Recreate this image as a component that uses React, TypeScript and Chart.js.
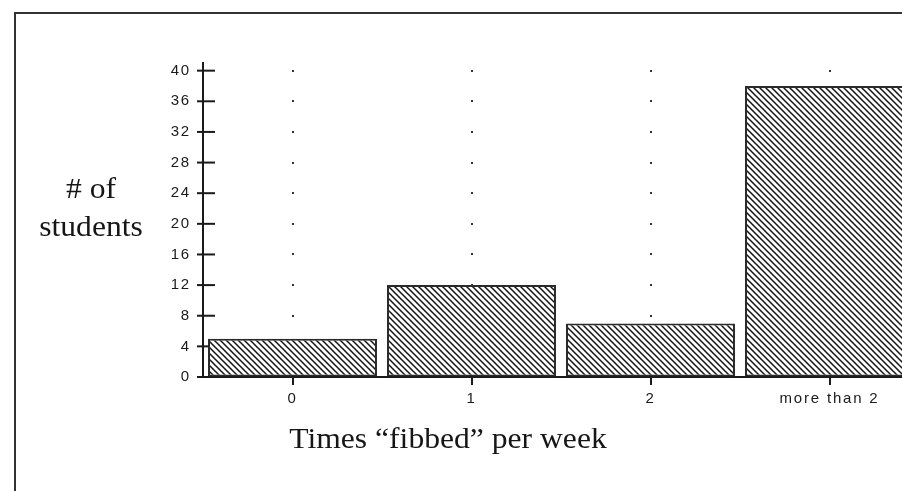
import { useEffect, useRef } from "react";
import { Chart, registerables } from "chart.js";

Chart.register(...registerables);

const categories = ["0", "1", "2", "more than 2"];
const studentCounts = [5, 12, 7, 38];
const yTickValues = [0, 4, 8, 12, 16, 20, 24, 28, 32, 36, 40];
const yMin = 0;
const yMax = 41;
const yTitleLines = ["# of", "students"];
const xTitle = "Times \u201Cfibbed\u201D per week";

const INK = "#1a1a1a";
const LETTER_SPACING = "1.8px";

const decorPlugin = {
  id: "decor",
  beforeUpdate(chart: any) {
    chart.ctx.letterSpacing = LETTER_SPACING;
  },
  beforeDraw(chart: any) {
    const ctx = chart.ctx as CanvasRenderingContext2D;
    ctx.save();
    ctx.letterSpacing = "0px";
    ctx.fillStyle = "#fff";
    ctx.fillRect(0, 0, chart.width, chart.height);
    ctx.strokeStyle = "#333";
    ctx.lineWidth = 2;
    ctx.strokeRect(15, 13, chart.width + 100, chart.height + 100);
    ctx.restore();
    ctx.letterSpacing = LETTER_SPACING;
  },
  beforeDatasetsDraw(chart: any) {
    const ctx = chart.ctx as CanvasRenderingContext2D;
    const xs = chart.scales.x;
    const ys = chart.scales.y;
    ctx.save();
    // dotted grid: a dot at each category / value-tick crossing
    ctx.fillStyle = "#333";
    xs.ticks.forEach((_t: any, i: number) => {
      const px = xs.getPixelForTick(i);
      ys.ticks.forEach((yt: any) => {
        if (yt.value === 0) return;
        const py = ys.getPixelForValue(yt.value);
        ctx.fillRect(Math.round(px) - 1, Math.round(py) - 1, 2, 2);
      });
    });
    // y tick marks crossing the axis
    ctx.strokeStyle = INK;
    ctx.lineWidth = 2;
    const ax = ys.right;
    ys.ticks.forEach((yt: any) => {
      const py = ys.getPixelForValue(yt.value);
      ctx.beginPath();
      ctx.moveTo(ax - 6, py);
      ctx.lineTo(ax + 12, py);
      ctx.stroke();
    });
    ctx.restore();
  },
  afterDraw(chart: any) {
    const ctx = chart.ctx as CanvasRenderingContext2D;
    ctx.letterSpacing = "0px";
    ctx.save();
    ctx.fillStyle = "#161616";
    ctx.textAlign = "center";
    ctx.textBaseline = "alphabetic";
    ctx.font = "29px 'Liberation Serif', 'DejaVu Serif', serif";
    const sx = 1.09;
    const yBase = [198, 236];
    yTitleLines.forEach((line, i) => {
      ctx.save();
      ctx.translate(91, yBase[i]);
      ctx.scale(sx, 1);
      ctx.fillText(line, 0, 0);
      ctx.restore();
    });
    ctx.save();
    ctx.translate(448, 448);
    ctx.scale(sx, 1);
    ctx.fillText(xTitle, 0, 0);
    ctx.restore();
    ctx.restore();
  },
};

export default function App() {
  const ref = useRef<HTMLCanvasElement>(null);

  useEffect(() => {
    const canvas = ref.current!;
    const pc = document.createElement("canvas");
    const S = 6;
    pc.width = S;
    pc.height = S;
    const p = pc.getContext("2d")!;
    p.fillStyle = "#fff";
    p.fillRect(0, 0, S, S);
    p.strokeStyle = "#151515";
    p.lineWidth = 1.5;
    p.beginPath();
    p.moveTo(-1, -1);
    p.lineTo(S + 1, S + 1);
    p.moveTo(S - 1, -1);
    p.lineTo(S + 1, 1);
    p.moveTo(-1, S - 1);
    p.lineTo(1, S + 1);
    p.stroke();
    const pattern = canvas.getContext("2d")!.createPattern(pc, "repeat")!;

    const tickFont = { family: "'Liberation Sans', Arial, sans-serif", size: 15 };

    const chart = new Chart(canvas, {
      type: "bar",
      data: {
        labels: categories,
        datasets: [
          {
            data: studentCounts,
            backgroundColor: pattern as any,
            borderColor: "#2a2a2a",
            borderWidth: 2,
            borderSkipped: false,
            barPercentage: 0.944,
            categoryPercentage: 1,
          },
        ],
      },
      options: {
        responsive: false,
        animation: false,
        devicePixelRatio: 1,
        layout: { padding: { left: 143, top: 63, right: 21, bottom: 74 } },
        plugins: {
          legend: { display: false },
          tooltip: { enabled: false },
        },
        scales: {
          x: {
            type: "category",
            offset: true,
            grid: {
              display: true,
              drawOnChartArea: false,
              drawTicks: true,
              tickLength: 8,
              offset: false,
              color: INK,
              lineWidth: 2,
            },
            border: { display: true, color: INK, width: 2 },
            ticks: {
              color: INK,
              font: tickFont,
              padding: 5,
              maxRotation: 0,
              autoSkip: false,
            },
            afterFit(s: any) {
              s.height = 40;
            },
          },
          y: {
            min: yMin,
            max: yMax,
            ticks: {
              color: INK,
              font: tickFont,
              padding: 12,
            },
            grid: { display: true, drawOnChartArea: false, drawTicks: false },
            border: { display: true, color: INK, width: 2 },
            afterBuildTicks(s: any) {
              s.ticks = yTickValues.map((v) => ({ value: v }));
            },
            afterFit(s: any) {
              s.width = 60;
            },
          },
        },
      },
      plugins: [decorPlugin],
    });

    return () => chart.destroy();
  }, []);

  return (
    <div
      style={{
        position: "fixed",
        left: 0,
        top: 0,
        width: 902,
        height: 491,
        overflow: "hidden",
        background: "#fff",
      }}
    >
      <canvas
        ref={ref}
        width={940}
        height={491}
        style={{ display: "block", width: 940, height: 491 }}
      />
    </div>
  );
}
